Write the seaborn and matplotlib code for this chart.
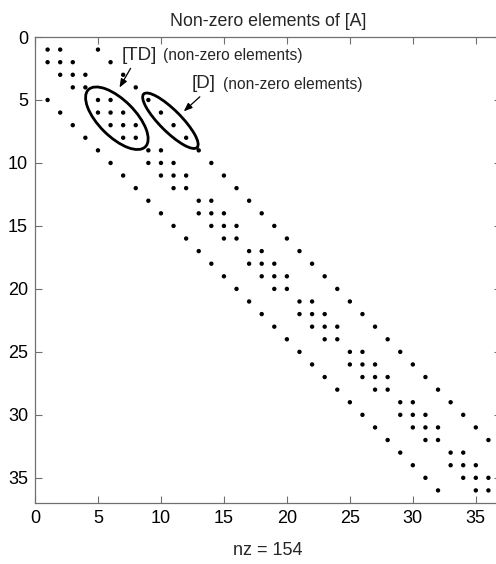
import matplotlib
matplotlib.use("Agg")
import matplotlib.pyplot as plt
from matplotlib.patches import Ellipse
import seaborn as sns
import pandas as pd

# Non-zero columns of each row of [A] (rows 1..36)
row_cols = [
    [1, 2, 5], [1, 2, 3, 6], [2, 3, 4, 7], [3, 4, 8],
    [1, 5, 6, 9], [2, 5, 6, 7, 10], [3, 6, 7, 8, 11], [4, 7, 8, 12],
    [5, 9, 10, 13], [6, 9, 10, 11, 14], [7, 10, 11, 12, 15], [8, 11, 12, 16],
    [9, 13, 14, 17], [10, 13, 14, 15, 18], [11, 14, 15, 16, 19], [12, 15, 16, 20],
    [13, 17, 18, 21], [14, 17, 18, 19, 22], [15, 18, 19, 20, 23], [16, 19, 20, 24],
    [17, 21, 22, 25], [18, 21, 22, 23, 26], [19, 22, 23, 24, 27], [20, 23, 24, 28],
    [21, 25, 26, 29], [22, 25, 26, 27, 30], [23, 26, 27, 28, 31], [24, 27, 28, 32],
    [25, 29, 30, 33], [26, 29, 30, 31, 34], [27, 30, 31, 32, 35], [28, 31, 32, 36],
    [29, 33, 34], [30, 33, 34, 35], [31, 34, 35, 36], [32, 35, 36],
]
x_ticks = [0, 5, 10, 15, 20, 25, 30, 35]
y_ticks = [0, 5, 10, 15, 20, 25, 30, 35]
title_text = "Non-zero elements of [A]"

rows = [r + 1 for r, cols in enumerate(row_cols) for c in cols]
cols = [c for cs in row_cols for c in cs]
df = pd.DataFrame({"col": cols, "row": rows})
nz = len(df)

sns.set_style("white")
plt.rcParams["font.family"] = ["Liberation Sans", "DejaVu Sans"]

fig = plt.figure(figsize=(4.96, 5.64), dpi=100)
ax = fig.add_axes([35 / 496, 61 / 564, 466 / 496, 466 / 564])

sns.scatterplot(data=df, x="col", y="row", ax=ax, color="black", s=10,
                edgecolor="none", marker="o", legend=False)

ax.set_xlim(0, 37)
ax.set_ylim(37, 0)
ax.set_xticks(x_ticks)
ax.set_yticks(y_ticks)
ax.tick_params(direction="in", length=5, width=0.8, color="#707070",
               labelsize=13, top=True, right=True, bottom=True, left=True,
               labelcolor="black", pad=5)
for s in ax.spines.values():
    s.set_color("#707070")
    s.set_linewidth(0.9)

ax.set_title(title_text, fontsize=12.8, pad=8)
ax.set_xlabel(f"nz = {nz}", fontsize=13, labelpad=11)
ax.set_ylabel("")

# Ellipses highlighting blocks
ax.add_patch(Ellipse((6.5, 6.45), width=6.4, height=2.9, angle=45,
                     fill=False, ec="black", lw=2))
ax.add_patch(Ellipse((10.75, 6.65), width=6.0, height=1.7, angle=45,
                     fill=False, ec="black", lw=2))

# Labels and arrows
ax.text(6.9, 1.45, "[TD]", fontsize=13.5, va="center", ha="left")
ax.text(10.16, 1.5, "(non-zero elements)", fontsize=11.2, va="center", ha="left")
ax.text(12.46, 3.7, "[D]", fontsize=13.5, va="center", ha="left")
ax.text(14.92, 3.75, "(non-zero elements)", fontsize=11.2, va="center", ha="left")

arrow = dict(arrowstyle="-|>,head_length=0.5,head_width=0.2", color="black", lw=0.9)
ax.annotate("", xy=(6.6, 4.2), xytext=(7.7, 2.3), arrowprops=arrow)
ax.annotate("", xy=(11.65, 6.05), xytext=(13.25, 4.6), arrowprops=arrow)

fig.savefig("out.png", dpi=100)
